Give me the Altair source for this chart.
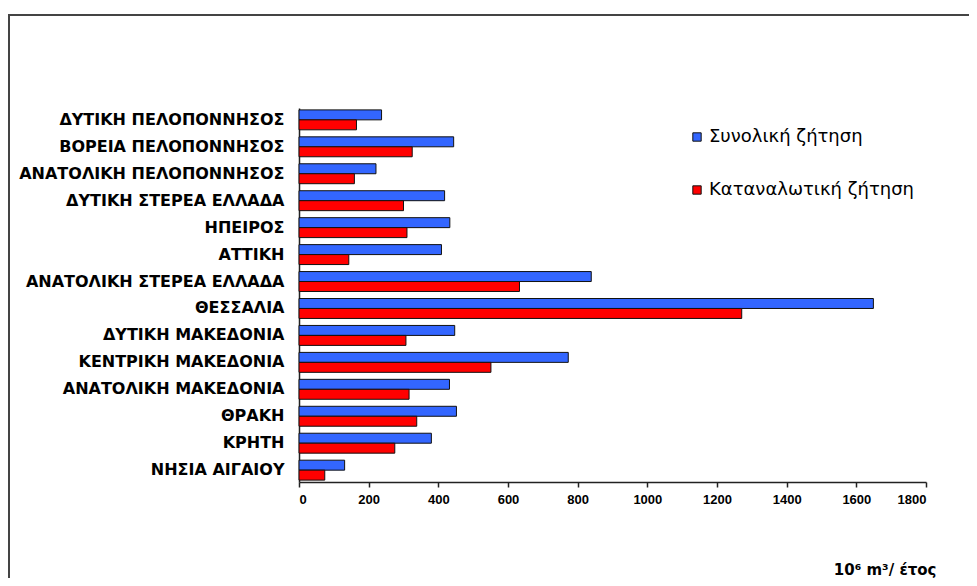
import altair as alt
import pandas as pd

regions = [
    "ΔΥΤΙΚΗ ΠΕΛΟΠΟΝΝΗΣΟΣ",
    "ΒΟΡΕΙΑ ΠΕΛΟΠΟΝΝΗΣΟΣ",
    "ΑΝΑΤΟΛΙΚΗ ΠΕΛΟΠΟΝΝΗΣΟΣ",
    "ΔΥΤΙΚΗ ΣΤΕΡΕΑ ΕΛΛΑΔΑ",
    "ΗΠΕΙΡΟΣ",
    "ΑΤΤΙΚΗ",
    "ΑΝΑΤΟΛΙΚΗ ΣΤΕΡΕΑ ΕΛΛΑΔΑ",
    "ΘΕΣΣΑΛΙΑ",
    "ΔΥΤΙΚΗ ΜΑΚΕΔΟΝΙΑ",
    "ΚΕΝΤΡΙΚΗ ΜΑΚΕΔΟΝΙΑ",
    "ΑΝΑΤΟΛΙΚΗ ΜΑΚΕΔΟΝΙΑ",
    "ΘΡΑΚΗ",
    "ΚΡΗΤΗ",
    "ΝΗΣΙΑ ΑΙΓΑΙΟΥ",
]
total_demand = [237, 444, 221, 418, 433, 409, 839, 1649, 447, 773, 432, 452, 380, 131]
consumptive_demand = [165, 325, 159, 300, 310, 143, 633, 1271, 307, 551, 316, 338, 275, 74]
series_names = ["Συνολική ζήτηση", "Καταναλωτική ζήτηση"]
series_colors = ["#3366FF", "#FF0000"]
x_ticks = [0, 200, 400, 600, 800, 1000, 1200, 1400, 1600, 1800]

rows = []
for r, t, c in zip(regions, total_demand, consumptive_demand):
    rows.append({"region": r, "series": series_names[0], "value": t})
    rows.append({"region": r, "series": series_names[1], "value": c})
df = pd.DataFrame(rows)

W, H = 627, 374

bars = alt.Chart(df).mark_bar(stroke="#111111", strokeWidth=1, opacity=1).encode(
    y=alt.Y(
        "region:N",
        sort=regions,
        scale=alt.Scale(paddingInner=0.26, paddingOuter=0.07),
        axis=alt.Axis(
            title=None,
            labelFont="DejaVu Sans",
            labelFontWeight="bold",
            labelFontSize=16,
            labelColor="#000000",
            labelPadding=15,
            labelLimit=400,
            ticks=False,
            domainColor="#222222",
            domainWidth=1.5,
            grid=False,
        ),
    ),
    yOffset=alt.YOffset("series:N", sort=series_names),
    x=alt.X(
        "value:Q",
        scale=alt.Scale(domain=[0, 1800], nice=False),
        axis=alt.Axis(
            values=x_ticks,
            format="d",
            title="10⁶ m³/ έτος",
            titleFont="DejaVu Sans",
            titleFontWeight="bold",
            titleFontSize=15,
            titleColor="#000000",
            titleAnchor="end",
            titleAlign="right",
            titleBaseline="alphabetic",
            titleX=637,
            titleY=92,
            labelFont="Liberation Sans",
            labelFontWeight="bold",
            labelFontSize=13,
            labelColor="#000000",
            labelPadding=6,
            tickSize=5,
            tickColor="#222222",
            tickWidth=1.5,
            domainColor="#222222",
            domainWidth=1.5,
            grid=False,
        ),
    ),
    color=alt.Color(
        "series:N",
        sort=series_names,
        scale=alt.Scale(domain=series_names, range=series_colors),
        legend=alt.Legend(
            title=None,
            orient="none",
            legendX=389,
            legendY=20,
            symbolType="square",
            symbolSize=70,
            symbolStrokeColor="#111111",
            symbolStrokeWidth=1,
            symbolOpacity=1,
            labelFont="DejaVu Sans",
            labelFontSize=18,
            labelColor="#000000",
            labelOffset=3,
            labelLimit=400,
            rowPadding=35,
        ),
    ),
)

frame_data = pd.DataFrame({"f": [0]})
frame_left = alt.Chart(frame_data).mark_rule(stroke="#444444", strokeWidth=2).encode(
    x=alt.value(-290), y=alt.value(-94), y2=alt.value(480)
)
frame_top = alt.Chart(frame_data).mark_rule(stroke="#444444", strokeWidth=2).encode(
    x=alt.value(-291), x2=alt.value(700), y=alt.value(-93)
)

chart = alt.layer(frame_left, frame_top, bars).properties(
    width=W,
    height=H,
    autosize=alt.AutoSizeParams(type="none"),
    padding={"left": 291, "top": 100, "right": 43, "bottom": 96},
).configure_view(stroke=None)

chart.save("out.html", embed_options={"renderer": "svg", "actions": False})
